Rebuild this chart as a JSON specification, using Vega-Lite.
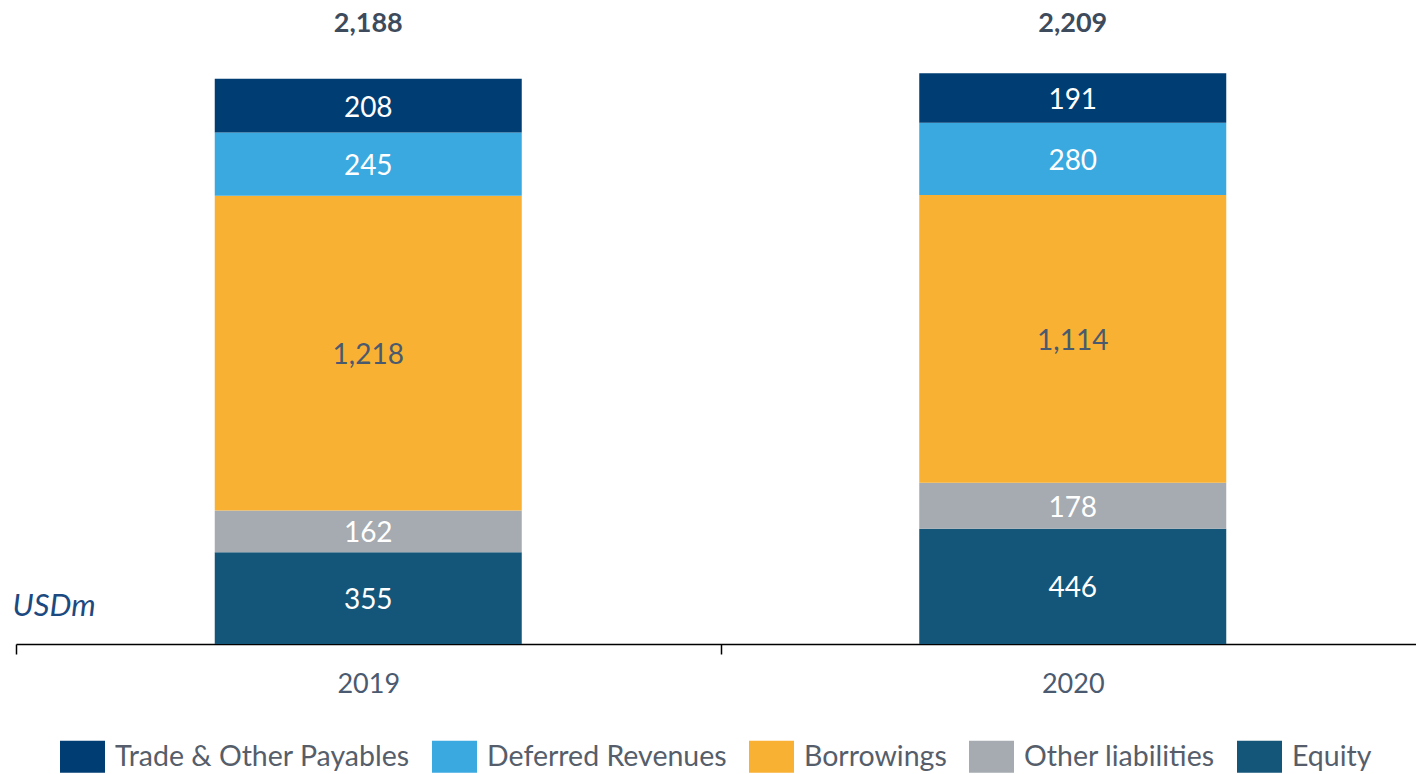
{
  "$schema": "https://vega.github.io/schema/vega-lite/v6.json",
  "width": 1409,
  "height": 620,
  "autosize": {"type": "none"},
  "padding": {"left": 16, "top": 24, "right": 0, "bottom": 130},
  "config": {"view": {"stroke": null}, "font": "Lato"},
  "datasets": {
    "segs": [
      {"year": "2019", "cat": "Equity", "value": 355, "ord": 1},
      {"year": "2019", "cat": "Other liabilities", "value": 162, "ord": 2},
      {"year": "2019", "cat": "Borrowings", "value": 1218, "ord": 3},
      {"year": "2019", "cat": "Deferred Revenues", "value": 245, "ord": 4},
      {"year": "2019", "cat": "Trade & Other Payables", "value": 208, "ord": 5},
      {"year": "2020", "cat": "Equity", "value": 446, "ord": 1},
      {"year": "2020", "cat": "Other liabilities", "value": 178, "ord": 2},
      {"year": "2020", "cat": "Borrowings", "value": 1114, "ord": 3},
      {"year": "2020", "cat": "Deferred Revenues", "value": 280, "ord": 4},
      {"year": "2020", "cat": "Trade & Other Payables", "value": 191, "ord": 5}
    ],
    "totals": [
      {"year": "2019", "total": 2188},
      {"year": "2020", "total": 2209}
    ]
  },
  "encoding": {
    "x": {
      "field": "year", "type": "nominal",
      "scale": {"paddingInner": 0, "paddingOuter": 0},
      "axis": {
        "title": null, "labelAngle": 0, "domainColor": "#000000", "domainWidth": 1.5,
        "tickColor": "#000000", "tickWidth": 1.5, "tickSize": 10, "tickBand": "extent",
        "labelFontSize": 27, "labelColor": "#4a5a70", "labelPadding": 17, "labelFont": "Lato"
      }
    }
  },
  "layer": [
    {
      "data": {"name": "segs"},
      "mark": {"type": "bar", "width": 307},
      "encoding": {
        "y": {
          "field": "value", "type": "quantitative", "stack": "zero",
          "scale": {"domain": [0, 2400], "nice": false},
          "axis": {
            "title": "USDm", "titleAngle": 0, "titleFontStyle": "italic", "titleFontWeight": "normal",
            "titleFontSize": 31, "titleColor": "#1c4a80", "titleAlign": "left", "titleBaseline": "middle",
            "titleX": -4, "titleY": 582, "labels": false, "ticks": false, "domain": false, "grid": false,
            "titleFont": "Lato"
          }
        },
        "color": {
          "field": "cat", "type": "nominal",
          "scale": {
            "domain": ["Trade & Other Payables", "Deferred Revenues", "Borrowings", "Other liabilities", "Equity"],
            "range": ["#003d73", "#3aa9e0", "#f8b133", "#a5abb1", "#14567a"]
          },
          "legend": {
            "title": null, "orient": "none", "direction": "horizontal", "legendX": 44, "legendY": 710,
            "symbolType": "M-1,-0.711H1V0.711H-1Z", "symbolSize": 2025, "symbolStrokeWidth": 0,
            "symbolOpacity": 1, "labelFontSize": 28.5, "labelColor": "#555e6a", "labelOffset": 10,
            "columnPadding": 22, "labelFont": "Lato", "labelLimit": 500
          }
        },
        "order": {"field": "ord", "type": "quantitative"}
      }
    },
    {
      "data": {"name": "segs"},
      "mark": {"type": "text", "fontSize": 28, "baseline": "middle", "align": "center", "font": "Lato", "dy": 3},
      "encoding": {
        "y": {"field": "value", "type": "quantitative", "stack": "zero", "bandPosition": 0.5},
        "order": {"field": "ord", "type": "quantitative"},
        "text": {"field": "value", "type": "quantitative", "format": ","},
        "color": {"condition": {"test": "datum.cat === 'Borrowings'", "value": "#4a5a6e"}, "value": "#ffffff"}
      }
    },
    {
      "data": {"name": "totals"},
      "mark": {"type": "text", "fontSize": 27, "fontWeight": "bold", "baseline": "middle", "align": "center", "color": "#3d4b5c", "dy": 0, "font": "Lato"},
      "encoding": {
        "y": {"datum": 2400, "type": "quantitative"},
        "text": {"field": "total", "type": "quantitative", "format": ","}
      }
    }
  ]
}
